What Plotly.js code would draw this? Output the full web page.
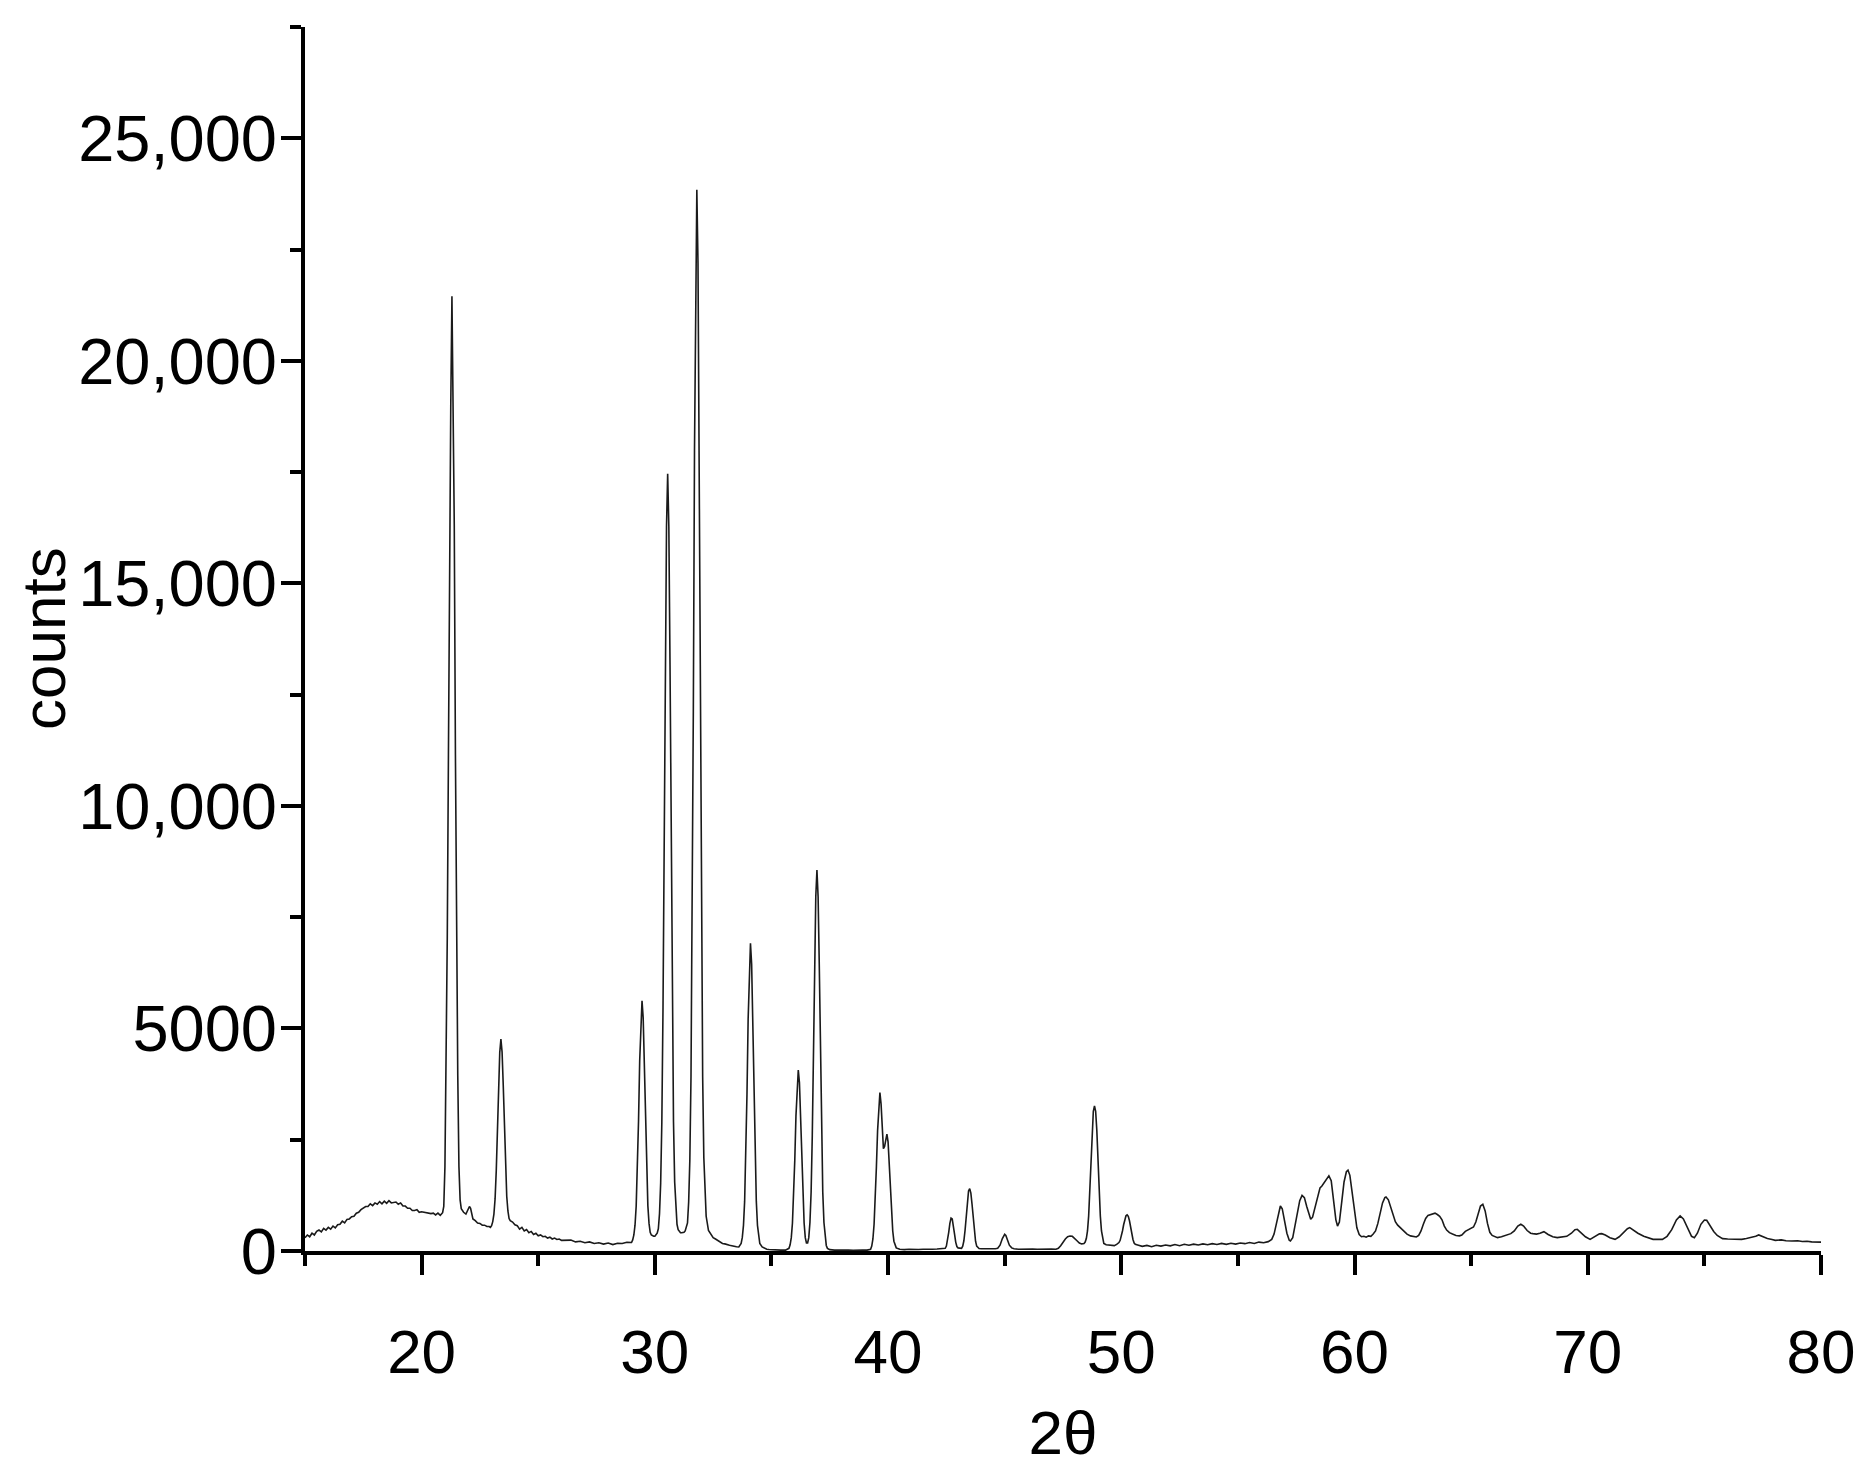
<!DOCTYPE html>
<html>
<head>
<meta charset="utf-8">
<script src="https://cdn.plot.ly/plotly-3.0.1.min.js"></script>
<style>
  html, body { margin: 0; padding: 0; background: #fff; }
  #myDiv { width: 1873px; height: 1480px; }
</style>
</head>
<body>
<div id="myDiv"></div>
<script>
// XRD scan, [2theta, counts]
var scanLow = [
  [15.0,300],[15.1,360],[15.2,320],[15.3,400],[15.4,360],[15.5,440],[15.6,470],[15.7,430],[15.8,510],[15.9,470],
  [16.0,530],[16.1,490],[16.2,560],[16.3,520],[16.4,590],[16.5,600],[16.6,670],[16.7,630],[16.8,710],[16.9,720],
  [17.0,770],[17.1,780],[17.2,850],[17.3,870],[17.4,930],[17.5,960],[17.6,1000],[17.7,1000],[17.8,1060],[17.9,1020],
  [18.0,1080],[18.1,1050],[18.2,1110],[18.3,1060],[18.4,1120],[18.5,1070],[18.6,1130],[18.7,1080],[18.8,1090],[18.9,1100],
  [19.0,1050],[19.1,1080],[19.2,1010],[19.3,1010],[19.4,960],[19.5,960],[19.6,910],[19.7,910],[19.8,930],[19.9,870],
  [20.0,880],[20.1,870],[20.2,860],[20.3,850],[20.4,840],[20.5,850],[20.6,810],[20.7,850],[20.8,800],[20.9,860],
  [20.95,1000],[21.0,1900],[21.05,3940],[21.1,7030],[21.15,11150],[21.2,16300],[21.25,19010],[21.3,21450],
  [21.35,19010],[21.4,16300],[21.45,11150],[21.5,7030],[21.55,3940],[21.6,1900],[21.65,1150],[21.7,950],
  [21.8,870],[21.9,830],[21.95,880],[22.0,930],[22.05,1000],[22.1,960],[22.15,820],[22.2,720],[22.3,680],
  [22.4,630],[22.5,620],[22.6,580],[22.7,580],[22.8,550],[22.9,550],[22.95,530],[23.0,570],[23.05,660],
  [23.1,830],[23.15,1170],[23.2,1800],[23.25,2650],[23.3,3700],[23.35,4460],[23.4,4760],[23.45,4470],
  [23.5,3720],[23.55,2680],[23.6,1850],[23.65,1230],[23.7,900],[23.75,730],[23.8,680],[23.9,650],[24.0,590],
  [24.1,570],[24.2,490],[24.3,530],[24.4,450],[24.5,480],[24.6,410],[24.7,440],[24.8,370],[24.9,400],[25.0,340],
  [25.1,360],[25.2,320],[25.3,330],[25.4,290],[25.5,310],[25.6,270],[25.7,290],[25.8,260],[25.9,270],[26.0,240],
  [26.2,235],[26.4,245],[26.6,205],[26.8,220],[27.0,185],[27.2,205],[27.4,170],[27.6,185],[27.8,155],[28.0,180],
  [28.2,145],[28.4,175],[28.6,170],[28.8,195],[29.0,190]
];

var scanMain = [
  [29.05,250],[29.1,360],[29.15,580],[29.2,1010],[29.25,1830],[29.3,2910],[29.35,4270],[29.4,5240],[29.45,5620],
  [29.5,5240],[29.55,4270],[29.6,2910],[29.65,1830],[29.7,1020],[29.75,620],[29.8,420],[29.85,360],[29.9,340],
  [29.95,330],[30.0,330],[30.1,400],[30.15,500],[30.2,840],[30.25,1530],[30.3,2900],[30.35,5470],[30.4,8900],
  [30.45,13180],[30.5,16270],[30.55,17465],[30.6,16270],[30.65,13180],[30.7,8900],[30.75,5470],[30.8,2900],
  [30.85,1550],[30.9,900],[30.95,600],[31.0,480],[31.05,430],[31.1,410],[31.15,410],[31.25,420],[31.3,450],
  [31.35,520],[31.4,630],[31.45,1100],[31.5,2040],[31.55,3920],[31.6,7430],[31.65,12120],[31.7,17980],
  [31.75,22200],[31.8,23842],[31.85,22200],[31.9,17980],[31.95,12120],[32.0,7430],[32.05,3920],[32.1,2100],
  [32.15,1200],[32.2,780],[32.3,460],[32.4,380],[32.5,300],[32.6,270],[32.7,230],[32.8,210],[32.9,170],
  [33.0,160],[33.1,140],[33.2,130],[33.3,120],[33.4,100],[33.5,95],[33.6,90],[33.7,168],[33.75,305],
  [33.8,577],[33.85,1120],[33.9,2145],[33.95,3510],[34.0,5210],[34.05,6440],[34.1,6916],[34.15,6440],
  [34.2,5210],[34.25,3510],[34.3,2145],[34.35,1120],[34.4,577],[34.45,305],[34.5,168],[34.6,90],[34.7,60],
  [34.8,40],[34.9,35],[35.0,30],[35.2,25],[35.4,20],[35.6,20],[35.7,35],[35.75,60],[35.8,140],[35.85,300],
  [35.9,630],[35.95,1230],[36.0,2040],[36.05,3030],[36.1,3780],[36.15,4065],[36.2,3780],[36.25,3050],
  [36.3,2040],[36.35,1230],[36.4,630],[36.45,300],[36.5,180],[36.55,180],[36.6,300],[36.65,640],[36.7,1320],
  [36.75,2590],[36.8,4300],[36.85,6430],[36.9,7960],[36.95,8557],[37.0,7960],[37.05,6430],[37.1,4300],
  [37.15,2590],[37.2,1320],[37.25,640],[37.3,300],[37.35,125],[37.4,60],[37.5,30],[37.7,20],[37.9,25],
  [38.1,15],[38.3,20],[38.5,15],[38.7,25],[38.9,20],[39.1,20],[39.2,30],[39.25,40],[39.3,110],[39.35,270],
  [39.4,600],[39.45,1150],[39.5,1900],[39.55,2700],[39.6,3300],[39.65,3562],[39.7,3300],[39.75,2750],
  [39.8,2300],[39.85,2350],[39.9,2550],[39.95,2625],[40.0,2450],[40.05,1950],[40.1,1350],[40.15,820],
  [40.2,450],[40.25,220],[40.3,110],[40.35,70],[40.5,40],[40.7,30],[40.9,40]
];

var scanMid = [
  [41.1,30],[41.3,35],[41.5,40],[41.7,35],[41.9,40],[42.1,45],[42.3,50],[42.45,60],[42.5,110],[42.55,230],
  [42.6,420],[42.65,620],[42.7,740],[42.75,720],[42.8,580],[42.85,380],[42.9,200],[42.95,100],[43.0,70],
  [43.1,60],[43.15,60],[43.2,110],[43.25,230],[43.3,460],[43.35,800],[43.4,1130],[43.45,1350],[43.5,1400],
  [43.55,1300],[43.6,1050],[43.65,720],[43.7,420],[43.75,220],[43.8,110],[43.85,70],[43.9,55],[44.0,50],
  [44.2,45],[44.4,55],[44.6,50],[44.7,60],[44.8,130],[44.9,280],[44.95,350],[45.0,375],[45.05,350],[45.1,270],
  [45.2,130],[45.3,70],[45.4,50],[45.6,40],[45.8,45],[46.0,40],[46.2,45],[46.4,40],[46.6,45],[46.8,40],
  [47.0,45],[47.2,40],[47.3,60],[47.4,120],[47.5,200],[47.6,270],[47.7,320],[47.8,335],[47.9,330],[48.0,290],
  [48.1,230],[48.2,180],[48.3,160],[48.4,170],[48.45,200],[48.5,280],[48.55,450],[48.6,790],[48.65,1320],
  [48.7,2010],[48.75,2710],[48.8,3140],[48.85,3262],[48.9,3140],[48.95,2710],[49.0,2010],[49.05,1320],
  [49.1,790],[49.15,450],[49.2,260],[49.25,170],[49.35,140],[49.5,130],[49.6,140],[49.7,120],[49.8,150],
  [49.9,190],[49.95,240],[50.0,330],[50.05,450],[50.1,590],[50.15,710],[50.2,790],[50.25,810],[50.3,780],
  [50.35,680],[50.4,530],[50.45,380],[50.5,260],[50.55,180],[50.6,150],[50.7,135],[50.9,105],[51.1,125],
  [51.3,95],[51.5,130],[51.7,110],[51.9,135],[52.1,115],[52.3,145],[52.5,120],[52.7,150],[52.9,130],
  [53.1,155],[53.3,135],[53.5,160],[53.7,140],[53.9,165],[54.1,145],[54.3,170],[54.5,150],[54.7,175],
  [54.9,155],[55.1,180],[55.3,165],[55.5,190],[55.7,170],[55.9,200],[56.1,185],[56.3,210]
];

var scanHigh = [
  [56.45,260],[56.55,380],[56.65,620],[56.75,900],[56.82,1010],[56.9,950],[57.0,700],[57.1,400],[57.2,240],
  [57.25,225],[57.35,300],[57.45,550],[57.55,870],[57.65,1130],[57.75,1250],[57.85,1200],[57.95,1000],
  [58.05,790],[58.12,712],[58.2,760],[58.3,950],[58.4,1200],[58.52,1420],[58.6,1460],[58.7,1540],[58.8,1620],
  [58.9,1687],[59.0,1580],[59.1,1100],[59.2,700],[59.27,560],[59.35,650],[59.45,1100],[59.55,1550],
  [59.65,1780],[59.72,1815],[59.8,1700],[59.9,1300],[60.0,850],[60.1,520],[60.2,370],[60.3,320],[60.4,330],
  [60.5,310],[60.6,340],[60.7,330],[60.8,380],[60.9,450],[61.0,620],[61.1,850],[61.2,1080],[61.3,1200],
  [61.35,1215],[61.45,1150],[61.55,980],[61.65,800],[61.75,660],[61.85,580],[61.95,525],[62.1,450],
  [62.25,380],[62.4,340],[62.55,320],[62.65,315],[62.75,350],[62.85,450],[62.95,600],[63.05,730],[63.15,800],
  [63.25,820],[63.35,840],[63.45,850],[63.55,820],[63.65,780],[63.75,700],[63.85,560],[63.95,470],[64.07,412],
  [64.2,380],[64.35,350],[64.5,340],[64.6,360],[64.75,440],[64.9,480],[65.0,500],[65.1,540],[65.2,650],
  [65.3,860],[65.4,1010],[65.5,1050],[65.6,900],[65.7,620],[65.8,420],[65.9,350],[66.0,320],[66.13,300],
  [66.3,320],[66.5,360],[66.7,390],[66.85,450],[67.0,560],[67.13,600],[67.25,560],[67.4,460],[67.55,400],
  [67.65,390],[67.8,380],[67.95,400],[68.12,435],[68.3,370],[68.5,320],[68.69,300],[68.9,310],[69.1,330],
  [69.3,400],[69.45,480],[69.55,487],[69.7,420],[69.9,320],[70.1,262],[70.3,320],[70.5,385],[70.6,390],
  [70.75,360],[70.95,300],[71.17,262],[71.35,320],[71.55,420],[71.7,500],[71.8,525],[71.95,470],[72.15,400],
  [72.4,330],[72.6,290],[72.8,262],[73.0,265],[73.2,262],[73.4,330],[73.6,480],[73.8,700],[73.96,787],
  [74.1,720],[74.3,500],[74.45,330],[74.57,300],[74.7,400],[74.85,600],[75.0,697],[75.1,690],[75.25,560],
  [75.4,440],[75.55,350],[75.78,277],[76.0,270],[76.2,262],[76.4,270],[76.6,262],[76.8,280],[77.0,300],
  [77.2,330],[77.33,360],[77.5,320],[77.7,280],[77.9,260],[78.04,240],[78.3,250],[78.5,230],[78.75,225],
  [79.0,230],[79.2,215],[79.4,220],[79.6,205],[79.8,210],[80.0,200]
];

var yTickVals = [0, 5000, 10000, 15000, 20000, 25000];
var yTickText = ['0', '5000', '10,000', '15,000', '20,000', '25,000'];

var scan = scanLow.concat(scanMain, scanMid, scanHigh);
var twoTheta = scan.map(function (p) { return p[0]; });
var counts = scan.map(function (p) { return p[1]; });

var data = [{
  x: twoTheta,
  y: counts,
  type: 'scatter',
  mode: 'lines',
  line: { color: '#1a1a1a', width: 1.6 },
  hoverinfo: 'x+y'
}];

var axisFont = { family: '"Liberation Sans", Arial, sans-serif', size: 62, color: '#000' };
var yTickFont = { family: '"Liberation Sans", Arial, sans-serif', size: 65, color: '#000' };

var layout = {
  width: 1873,
  height: 1480,
  margin: { l: 305, r: 52, t: 27, b: 229 },
  paper_bgcolor: '#fff',
  plot_bgcolor: '#fff',
  showlegend: false,
  font: axisFont,
  xaxis: {
    range: [15, 80],
    tick0: 0,
    dtick: 10,
    showgrid: false,
    zeroline: false,
    showline: true,
    linecolor: '#000',
    linewidth: 4,
    ticks: 'outside',
    ticklen: 20,
    tickwidth: 4,
    tickcolor: '#000',
    tickfont: axisFont,
    ticklabelstandoff: 24,
    minor: { ticks: 'outside', dtick: 5, tick0: 0, ticklen: 11, tickwidth: 4, tickcolor: '#000', showgrid: false },
    title: { text: '2θ', font: axisFont, standoff: 26 }
  },
  yaxis: {
    range: [0, 27500],
    tickvals: yTickVals,
    ticktext: yTickText,
    showgrid: false,
    zeroline: false,
    showline: true,
    linecolor: '#000',
    linewidth: 4,
    ticks: 'outside',
    ticklen: 20,
    tickwidth: 4,
    tickcolor: '#000',
    tickfont: yTickFont,
    ticklabelstandoff: -9,
    minor: { ticks: 'outside', dtick: 2500, tick0: 0, ticklen: 11, tickwidth: 4, tickcolor: '#000', showgrid: false }
  },
  annotations: [{
    text: 'counts',
    font: axisFont,
    textangle: -90,
    showarrow: false,
    xref: 'paper',
    yref: 'paper',
    x: 0,
    y: 0.5,
    xanchor: 'center',
    yanchor: 'middle',
    xshift: -262
  }]
};

Plotly.newPlot('myDiv', data, layout, { staticPlot: true });
</script>
</body>
</html>
